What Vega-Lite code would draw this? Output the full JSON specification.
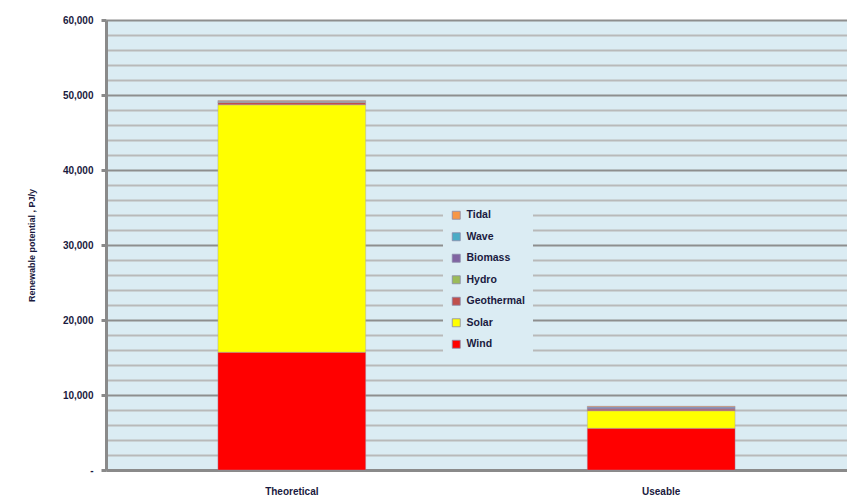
{
  "$schema": "https://vega.github.io/schema/vega-lite/v6.json",
  "width": 741,
  "height": 450,
  "autosize": {"type": "none"},
  "padding": {"left": 106, "top": 20, "right": 0, "bottom": 34},
  "background": "white",
  "config": {
    "font": "Liberation Sans",
    "view": {"fill": "#dbecf3", "stroke": null}
  },
  "data": {
    "values": [
      {"potential": "Theoretical", "source": "Wind", "pj": 15700},
      {"potential": "Theoretical", "source": "Solar", "pj": 33000},
      {"potential": "Theoretical", "source": "Geothermal", "pj": 300},
      {"potential": "Theoretical", "source": "Hydro", "pj": 60},
      {"potential": "Theoretical", "source": "Biomass", "pj": 50},
      {"potential": "Theoretical", "source": "Wave", "pj": 60},
      {"potential": "Theoretical", "source": "Tidal", "pj": 100},
      {"potential": "Useable", "source": "Wind", "pj": 5560},
      {"potential": "Useable", "source": "Solar", "pj": 2340},
      {"potential": "Useable", "source": "Geothermal", "pj": 220},
      {"potential": "Useable", "source": "Hydro", "pj": 60},
      {"potential": "Useable", "source": "Biomass", "pj": 200},
      {"potential": "Useable", "source": "Wave", "pj": 30},
      {"potential": "Useable", "source": "Tidal", "pj": 90}
    ]
  },
  "transform": [
    {"calculate": "indexof(['Wind','Solar','Geothermal','Hydro','Biomass','Wave','Tidal'], datum.source)", "as": "stackOrder"}
  ],
  "mark": {"type": "bar", "stroke": "#9a9ab4", "strokeWidth": 0.4},
  "encoding": {
    "x": {
      "field": "potential",
      "type": "nominal",
      "sort": ["Theoretical", "Useable"],
      "scale": {"paddingInner": 0.6, "paddingOuter": 0.303},
      "axis": {
        "title": null,
        "labelAngle": 0,
        "ticks": false,
        "labelPadding": 16,
        "labelFontSize": 10,
        "labelFontWeight": "bold",
        "labelColor": "#1a1a40",
        "domainColor": "#8a8a8a",
        "domainWidth": 3
      }
    },
    "y": {
      "field": "pj",
      "type": "quantitative",
      "stack": "zero",
      "scale": {"domain": [0, 60000], "nice": false},
      "axis": {
        "title": "Renewable potential , PJ/y",
        "titleFontSize": 9,
        "titleFontWeight": "bold",
        "titleColor": "#1a1a40",
        "titlePadding": 26,
        "values": [0, 2000, 4000, 6000, 8000, 10000, 12000, 14000, 16000, 18000, 20000, 22000, 24000, 26000, 28000, 30000, 32000, 34000, 36000, 38000, 40000, 42000, 44000, 46000, 48000, 50000, 52000, 54000, 56000, 58000, 60000],
        "labelExpr": "datum.value == 0 ? '-' : (datum.value % 10000 == 0 ? format(datum.value, ',') : '')",
        "labelFontSize": 10,
        "labelFontWeight": "bold",
        "labelColor": "#1a1a40",
        "labelPadding": 8,
        "grid": true,
        "gridWidth": 2,
        "gridColor": {"condition": {"test": "datum.value % 10000 == 0", "value": "#8e8e8e"}, "value": "#b9b9b9"},
        "tickColor": "#8a8a8a",
        "tickSize": 5,
        "tickWidth": 3,
        "tickOpacity": {"condition": {"test": "datum.value % 10000 == 0", "value": 1}, "value": 0},
        "domainColor": "#8a8a8a",
        "domainWidth": 3
      }
    },
    "color": {
      "field": "source",
      "type": "nominal",
      "scale": {
        "domain": ["Tidal", "Wave", "Biomass", "Hydro", "Geothermal", "Solar", "Wind"],
        "range": ["#F79646", "#4BACC6", "#8064A2", "#9BBB59", "#C0504D", "#FFFF00", "#FF0000"]
      },
      "legend": {
        "title": null,
        "orient": "none",
        "legendX": 337,
        "legendY": 182,
        "padding": 8,
        "fillColor": "#dbecf3",
        "symbolType": "square",
        "symbolSize": 64,
        "symbolStrokeWidth": 0.8,
        "symbolStrokeColor": "#8a8aa8",
        "labelFontSize": 10.5,
        "labelFontWeight": "bold",
        "labelColor": "#1a1a40",
        "labelOffset": 5,
        "rowPadding": 9.5
      }
    },
    "order": {"field": "stackOrder", "type": "quantitative"}
  }
}
